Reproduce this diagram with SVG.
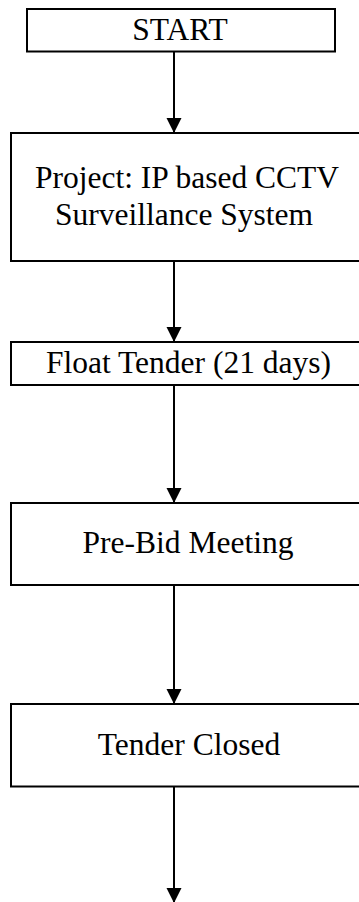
<svg xmlns="http://www.w3.org/2000/svg" width="359" height="902" viewBox="0 0 359 902">
<style>
.box{fill:#fff;stroke:#000;stroke-width:2}
.lbl{font-family:"Liberation Serif","Times New Roman",serif;font-size:31.5px;fill:#000;text-anchor:middle}
.conn{stroke:#000;stroke-width:2;fill:none;marker-end:url(#arr)}
</style>
<defs>
<marker id="arr" markerUnits="userSpaceOnUse" markerWidth="16" markerHeight="16" viewBox="0 0 16 16" refX="15" refY="8" orient="auto">
<path d="M0,0.5 L15,8 L0,15.5 Z" fill="#000"/>
</marker>
</defs>
<rect width="359" height="902" fill="#fff"/>
<g id="n-start"><rect class="box" x="27" y="9" width="308" height="42.5"/><text class="lbl" x="180" y="40">START</text></g>
<g id="n-project"><rect class="box" x="11" y="133" width="360" height="128"/><text class="lbl" x="187" y="188">Project: IP based CCTV</text><text class="lbl" x="184" y="225">Surveillance System</text></g>
<g id="n-float"><rect class="box" x="11" y="342" width="360" height="43"/><text class="lbl" x="188.5" y="373">Float Tender (21 days)</text></g>
<g id="n-prebid"><rect class="box" x="11" y="503" width="360" height="82"/><text class="lbl" x="188" y="553">Pre-Bid Meeting</text></g>
<g id="n-closed"><rect class="box" x="11" y="704" width="360" height="82.5"/><text class="lbl" x="189" y="755">Tender Closed</text></g>
<g id="connectors">
<line class="conn" x1="174" y1="52" x2="174" y2="133"/>
<line class="conn" x1="174" y1="262" x2="174" y2="342"/>
<line class="conn" x1="174" y1="386" x2="174" y2="503"/>
<line class="conn" x1="174" y1="586" x2="174" y2="704"/>
<line class="conn" x1="174" y1="787" x2="174" y2="903"/>
</g>
</svg>
